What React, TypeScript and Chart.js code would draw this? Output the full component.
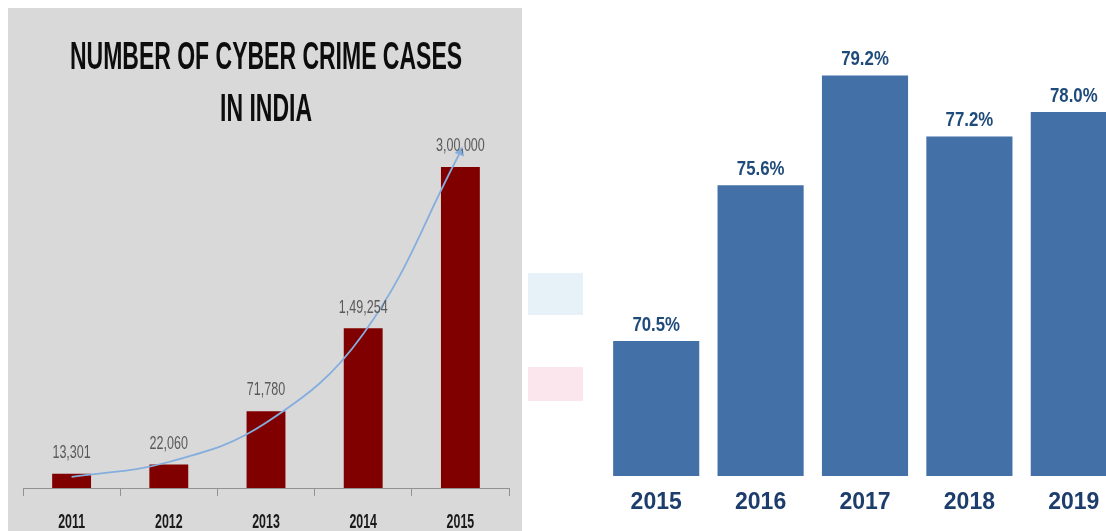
import React, { useEffect, useRef } from 'react';
import { Chart, registerables } from 'chart.js';

Chart.register(...registerables);

// ---- Left chart data ----
const crimeYears = ['2011', '2012', '2013', '2014', '2015'];
const crimeCases = [13301, 22060, 71780, 149254, 300000];
const trendValues = [10300, 24300, 61000, 144000, 314000];
const crimeTitle = ['NUMBER OF CYBER CRIME CASES', 'IN INDIA'];

// ---- Right chart data ----
const shareYears = ['2015', '2016', '2017', '2018', '2019'];
const shareValues = [70.5, 75.6, 79.2, 77.2, 78.0];

const SANS = '"Liberation Sans", Arial, sans-serif';

function fmtIN(n: number): string {
  const s = String(Math.round(n));
  if (s.length <= 3) return s;
  const last3 = s.slice(-3);
  let rest = s.slice(0, -3);
  const parts: string[] = [];
  while (rest.length > 2) {
    parts.unshift(rest.slice(-2));
    rest = rest.slice(0, -2);
  }
  if (rest) parts.unshift(rest);
  return parts.join(',') + ',' + last3;
}

function condensedText(ctx: any, text: string, x: number, y: number, sx: number) {
  ctx.save();
  ctx.translate(x, y);
  ctx.scale(sx, 1);
  ctx.fillText(text, 0, 0);
  ctx.restore();
}

const crimePlugin = {
  id: 'crimeText',
  afterDatasetsDraw(chart: any) {
    const ctx = chart.ctx;
    const meta = chart.getDatasetMeta(0);
    ctx.save();
    ctx.textAlign = 'center';
    ctx.textBaseline = 'middle';
    // value labels above bars
    ctx.fillStyle = '#595959';
    ctx.font = '19px ' + SANS;
    meta.data.forEach((bar: any, i: number) => {
      condensedText(ctx, fmtIN(crimeCases[i]), bar.x, bar.y - 21, 0.66);
    });
    // condensed category labels under the axis
    const xs = chart.scales.x;
    ctx.fillStyle = '#1a1a1a';
    ctx.font = 'bold 20px ' + SANS;
    crimeYears.forEach((label, i) => {
      condensedText(ctx, label, xs.getPixelForTick(i), xs.top + 34, 0.62);
    });
    // title
    ctx.fillStyle = '#0d0d0d';
    ctx.font = 'bold 38px ' + SANS;
    crimeTitle.forEach((line, i) => {
      condensedText(ctx, line, chart.width / 2 + 1, 51 + i * 52, 0.605);
    });
    ctx.restore();
  },
};

const sharePlugin = {
  id: 'shareText',
  afterDatasetsDraw(chart: any) {
    const ctx = chart.ctx;
    const meta = chart.getDatasetMeta(0);
    ctx.save();
    ctx.textAlign = 'center';
    ctx.textBaseline = 'middle';
    ctx.fillStyle = '#1f4b7a';
    ctx.font = 'bold 21px ' + SANS;
    meta.data.forEach((bar: any, i: number) => {
      condensedText(ctx, shareValues[i].toFixed(1) + '%', bar.x, bar.y - 16, 0.8);
    });
    ctx.restore();
  },
};

function CrimeChart() {
  const ref = useRef<HTMLCanvasElement>(null);
  useEffect(() => {
    const chart = new Chart(ref.current!, {
      type: 'bar',
      data: {
        labels: crimeYears,
        datasets: [
          {
            type: 'bar',
            data: crimeCases,
            backgroundColor: '#800000',
            barPercentage: 0.4,
            categoryPercentage: 1,
            order: 1,
          } as any,
          {
            type: 'line',
            data: trendValues,
            borderColor: '#85aede',
            backgroundColor: '#85aede',
            borderWidth: 1.8,
            tension: 0.4,
            pointRadius: [0, 0, 0, 0, 4],
            pointStyle: 'triangle',
            pointRotation: 20,
            order: 0,
          } as any,
        ],
      },
      options: {
        responsive: false,
        animation: false,
        layout: { padding: { top: 122, left: 15, right: 13, bottom: 0 } },
        plugins: { legend: { display: false }, tooltip: { enabled: false }, title: { display: false } },
        scales: {
          x: {
            grid: { display: true, drawOnChartArea: false, drawTicks: true, tickLength: 8, color: '#929292', offset: true },
            border: { display: true, color: '#929292', width: 1 },
            ticks: { display: false },
            afterFit: (s: any) => { s.height = 43; },
          },
          y: { display: false, min: 0, max: 334600 },
        },
      },
      plugins: [crimePlugin],
    } as any);
    return () => chart.destroy();
  }, []);
  return <canvas ref={ref} width={514} height={523} style={{ display: 'block' }} />;
}

function ShareChart() {
  const ref = useRef<HTMLCanvasElement>(null);
  useEffect(() => {
    const chart = new Chart(ref.current!, {
      type: 'bar',
      data: {
        labels: shareYears,
        datasets: [
          {
            data: shareValues,
            backgroundColor: '#4371a7',
            barPercentage: 0.825,
            categoryPercentage: 1,
          },
        ],
      },
      options: {
        responsive: false,
        animation: false,
        layout: { padding: { top: 40, left: 14, right: 4, bottom: 0 } },
        plugins: { legend: { display: false }, tooltip: { enabled: false } },
        scales: {
          x: {
            grid: { display: false, drawTicks: false, tickLength: 0 },
            border: { display: false },
            ticks: { color: '#1d3e6c', font: { family: SANS, size: 23, weight: 'bold' }, padding: 13 },
            afterFit: (s: any) => { s.height = 55; },
          },
          y: { display: false, min: 66.08, max: 80.36 },
        },
      },
      plugins: [sharePlugin],
    } as any);
    return () => chart.destroy();
  }, []);
  return <canvas ref={ref} width={540} height={531} style={{ display: 'block' }} />;
}

export default function App() {
  return (
    <div style={{ position: 'fixed', left: 0, top: 0, width: 1106, height: 531, background: '#ffffff', overflow: 'hidden' }}>
      <div style={{ position: 'absolute', left: 8, top: 8, width: 514, height: 523, background: '#d9d9d9' }}>
        <CrimeChart />
      </div>
      <div style={{ position: 'absolute', left: 528, top: 273, width: 55, height: 42, background: '#e7f1f8' }} />
      <div style={{ position: 'absolute', left: 528, top: 367, width: 55, height: 34, background: '#fce6ee' }} />
      <div style={{ position: 'absolute', left: 590, top: 0, width: 540, height: 531 }}>
        <ShareChart />
      </div>
    </div>
  );
}
